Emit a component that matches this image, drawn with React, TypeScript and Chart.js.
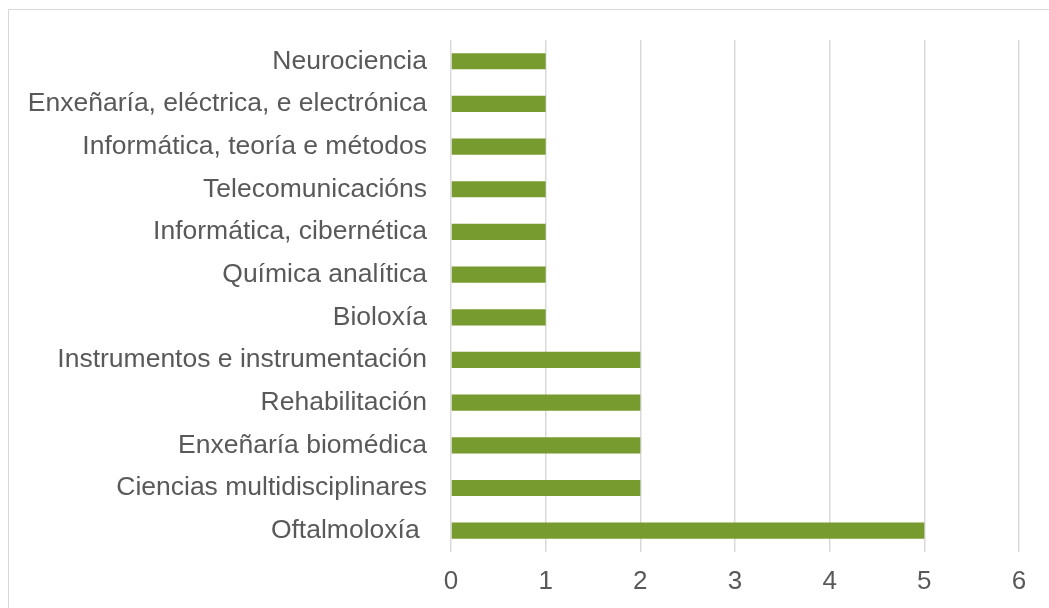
import React, { useEffect, useRef } from "react";
import { Chart, registerables } from "chart.js";

Chart.register(...registerables);

const categories = [
  "Neurociencia",
  "Enxeñaría, eléctrica, e electrónica",
  "Informática, teoría e métodos",
  "Telecomunicacións",
  "Informática, cibernética",
  "Química analítica",
  "Bioloxía",
  "Instrumentos e instrumentación",
  "Rehabilitación",
  "Enxeñaría biomédica",
  "Ciencias multidisciplinares",
  "Oftalmoloxía ",
];
const values = [1, 1, 1, 1, 1, 1, 1, 2, 2, 2, 2, 5];
const xMin = 0;
const xMax = 6;

export default function App() {
  const ref = useRef<HTMLCanvasElement | null>(null);
  useEffect(() => {
    document.body.style.overflow = "hidden";
    const ctx = ref.current!.getContext("2d")!;
    const chart = new Chart(ctx, {
      type: "bar",
      data: {
        labels: categories,
        datasets: [
          {
            data: values,
            backgroundColor: "#779B2E",
            borderWidth: 0,
            categoryPercentage: 1,
            barPercentage: 0.38,
          },
        ],
      },
      options: {
        indexAxis: "y",
        animation: false,
        responsive: false,
        maintainAspectRatio: false,
        layout: { padding: { left: 0, right: 30, top: 39, bottom: 0 } },
        plugins: { legend: { display: false }, tooltip: { enabled: false } },
        scales: {
          x: {
            min: xMin,
            max: xMax,
            ticks: {
              stepSize: 1,
              color: "#595959",
              padding: 14,
              font: { family: "'Liberation Sans', Arial, sans-serif", size: 26 },
            },
            grid: { color: "#d9d9d9", lineWidth: 1.5, drawTicks: false },
            border: { display: false },
            afterFit: (s: any) => {
              s.height = 56;
            },
          },
          y: {
            ticks: {
              color: "#595959",
              padding: 24,
              autoSkip: false,
              font: { family: "'Liberation Sans', Arial, sans-serif", size: 26.5 },
            },
            grid: { display: false, drawTicks: false },
            border: { display: false },
            afterFit: (s: any) => {
              s.width = 451;
            },
          },
        },
      },
    });
    return () => chart.destroy();
  }, []);
  return (
    <>
      <div
        style={{
          position: "fixed",
          left: 8,
          top: 9,
          width: 1100,
          height: 700,
          border: "1.5px solid #d9d9d9",
          boxSizing: "border-box",
        }}
      />
      <canvas
        ref={ref}
        width={1049}
        height={608}
        style={{ position: "fixed", left: 0, top: 0, width: 1049, height: 608 }}
      />
    </>
  );
}
